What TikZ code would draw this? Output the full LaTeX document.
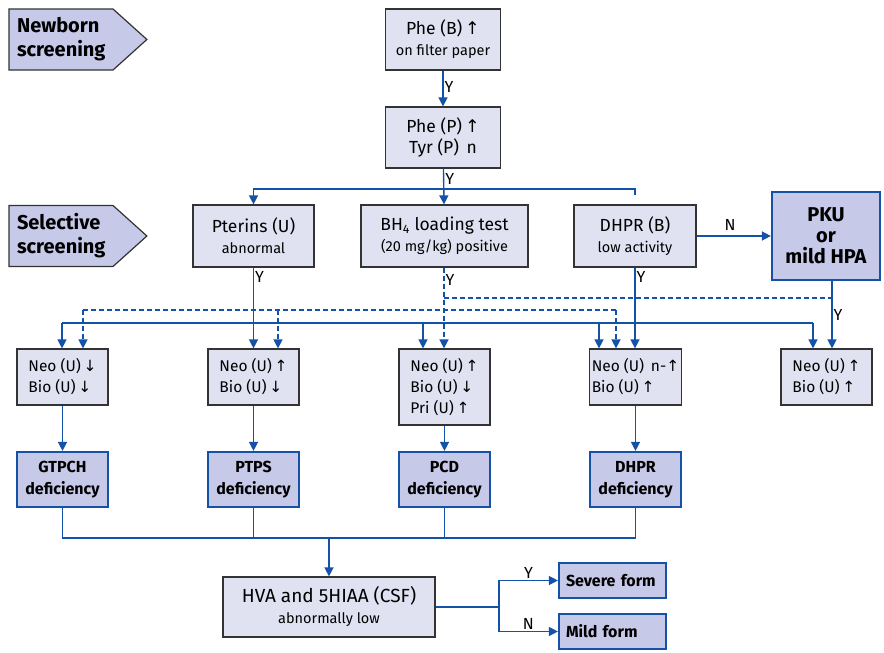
\documentclass[tikz,border=0pt]{standalone}
\usepackage{fontspec}
\setmainfont{Fira Sans}
\newfontfamily\arrowfont{DejaVu Sans}
\usetikzlibrary{arrows.meta,shapes.symbols}
\definecolor{lineblue}{HTML}{1452A8}
\definecolor{boxgray}{HTML}{333333}
\definecolor{lightfill}{HTML}{E0E2F2}
\definecolor{darkfill}{HTML}{C6C9E8}
\newcommand{\upar}{{\arrowfont\char"2191}}
\newcommand{\dnar}{{\arrowfont\char"2193}}
\newcommand{\bigtxt}{\fontsize{17.5}{21}\selectfont}
\newcommand{\midtxt}{\fontsize{15.5}{21}\selectfont}
\newcommand{\smalltxt}{\fontsize{14.5}{21}\selectfont}

\tikzset{
  testbox/.style={draw=boxgray, fill=lightfill, line width=1.2pt, align=center, inner sep=2pt, font=\bigtxt},
  resultbox/.style={draw=lineblue, fill=darkfill, line width=2.2pt, align=center, inner sep=2pt, font=\bfseries\fontsize{16}{22}\selectfont},
  stagebox/.style={shape=signal, signal to=east, signal pointer angle=84, draw=boxgray, fill=darkfill, line width=1.2pt, inner xsep=8pt, inner ysep=2pt, minimum height=61pt, text width=88pt, align=left, font=\bfseries\fontsize{20}{24}\selectfont},
  flow/.style={draw=lineblue, line width=1.4pt, -{Triangle[width=9pt,length=9pt]}},
  link/.style={draw=lineblue, line width=1.4pt},
  dashflow/.style={flow, dash pattern=on 5pt off 3pt},
  dashlink/.style={link, dash pattern=on 5pt off 3pt},
  yn/.style={font=\fontsize{16}{18}\selectfont, inner sep=1pt}
}

\begin{document}
\begin{tikzpicture}[x=1pt, y=-1pt]
        \useasboundingbox (0,0) rectangle (884,653);

        % Stages
        \node[stagebox] (newborn) at (61,39.5) {Newborn\\screening};
        \node[stagebox] (selective) at (61,236) {Selective\\screening};

        % Screening tests
        \node[testbox, minimum width=115pt, minimum height=61pt] (pheb) at (443,39.5)
            {Phe (B)\,\upar\\\smalltxt on filter paper};
        \node[testbox, minimum width=115pt, minimum height=61pt] (phep) at (443,137.5)
            {Phe (P)\,\upar\\Tyr (P)\, n};
        \node[testbox, minimum width=121pt, minimum height=62pt] (pterins) at (253.5,236)
            {Pterins (U)\\\smalltxt abnormal};
        \node[testbox, minimum width=167pt, minimum height=62pt] (bh4) at (444.5,236)
            {BH\textsubscript{4} loading test\\\smalltxt (20 mg/kg) positive};
        \node[testbox, minimum width=122pt, minimum height=62pt] (dhprb) at (635,236)
            {DHPR (B)\\\smalltxt low activity};
        \node[resultbox, minimum width=108pt, minimum height=88pt, font=\bfseries\fontsize{20}{21}\selectfont] (pku) at (826,236)
            {PKU\\or\\mild HPA};

        % Pterin profiles
        \node[testbox, minimum width=91pt, minimum height=56pt, align=left, font=\midtxt] (neo1) at (62.5,377)
            {Neo (U)\,\dnar\\Bio (U)\,\dnar};
        \node[testbox, minimum width=91pt, minimum height=56pt, align=left, font=\midtxt] (neo2) at (253.5,377)
            {Neo (U)\,\upar\\Bio (U)\,\dnar};
        \node[testbox, minimum width=91pt, minimum height=76pt, align=left, font=\midtxt] (neo3) at (444.5,387)
            {Neo (U)\,\upar\\Bio (U)\,\dnar\\Pri (U)\,\upar};
        \node[testbox, minimum width=91pt, minimum height=56pt, align=left, font=\midtxt] (neo4) at (635.5,377)
            {Neo (U)\, n-\upar\\Bio (U)\,\upar};
        \node[testbox, minimum width=91pt, minimum height=56pt, align=left, font=\midtxt] (neo5) at (826.5,377)
            {Neo (U)\,\upar\\Bio (U)\,\upar};

        % Deficiencies
        \node[resultbox, minimum width=91pt, minimum height=55pt] (gtpch) at (62.5,479.5) {GTPCH\\deficiency};
        \node[resultbox, minimum width=91pt, minimum height=55pt] (ptps) at (253.5,479.5) {PTPS\\deficiency};
        \node[resultbox, minimum width=91pt, minimum height=55pt] (pcd) at (444.5,479.5) {PCD\\deficiency};
        \node[resultbox, minimum width=91pt, minimum height=55pt] (dhprdef) at (635.5,479.5) {DHPR\\deficiency};

        % CSF and forms
        \node[testbox, minimum width=212pt, minimum height=60pt, font=\fontsize{19}{21}\selectfont] (hva) at (329,607)
            {HVA and 5HIAA (CSF)\\\smalltxt abnormally low};
        \node[resultbox, minimum width=107pt, minimum height=35pt, align=left, text width=93pt] (severe) at (612.5,580.5) {Severe form};
        \node[resultbox, minimum width=107pt, minimum height=35pt, align=left, text width=93pt] (mild) at (612.5,631.5) {Mild form};

        % Helper points
        \coordinate (split) at (443,189);
        \coordinate (dhprtick) at (635,195);
        \coordinate (busW) at (62,323);
        \coordinate (busE) at (813,323);
        \coordinate (dashW) at (83,310);
        \coordinate (dashE) at (616,310);
        \coordinate (pkuW) at (444,298);
        \coordinate (pkuE) at (832,298);
        \coordinate (join) at (329,538);
        \coordinate (fork) at (499,607);

        % Newborn screening
        \draw[flow] (pheb) -- node[yn, right, pos=0.45] {Y} (phep);
        \draw[flow] (phep) -- node[yn, right, pos=0.3] {Y} (bh4);
        \draw[flow] (split) -| (pterins);
        \draw[link] (split) -| (dhprtick);

        % Selective screening
        \draw[flow] (dhprb) -- node[yn, above, pos=0.45, yshift=4pt] {N} (pku);
        \draw[flow] (pterins) -- node[yn, right, pos=0.12] {Y} (neo2);
        \draw[dashflow] (bh4.south -| 444,0) -- node[yn, right, pos=0.15] {Y} (neo3.north -| 444,0);
        \draw[flow] (dhprb) -- node[yn, right, pos=0.12] {Y} (neo4.north -| dhprb);
        \draw[flow] (pku.south -| pkuE) -- node[yn, right, pos=0.5] {Y} (neo5.north -| pkuE);

        % Solid bus
        \draw[link] (busW) -- (busE);
        \draw[flow] (busW) -- (neo1.north -| busW);
        \draw[flow] (busW -| 423,0) -- (neo3.north -| 423,0);
        \draw[flow] (busW -| 599,0) -- (neo4.north -| 599,0);
        \draw[flow] (busE) -- (neo5.north -| busE);

        % Dashed buses
        \draw[dashlink] (pkuW) -- (pkuE);
        \draw[dashlink] (dashW) -- (dashE);
        \draw[dashflow] (dashW) -- (neo1.north -| dashW);
        \draw[dashflow] (dashW -| 278,0) -- (neo2.north -| 278,0);
        \draw[dashflow] (dashE) -- (neo4.north -| dashE);

        % Profiles to deficiencies
        \draw[flow] (neo1) -- (gtpch);
        \draw[flow] (neo2) -- (ptps);
        \draw[flow] (neo3) -- (pcd);
        \draw[flow] (neo4) -- (dhprdef);

        % Deficiencies to CSF
        \draw[link] (gtpch.south) |- (join) -| (dhprdef.south);
        \draw[link] (ptps.south) -- (ptps.south |- join);
        \draw[link] (pcd.south) -- (pcd.south |- join);
        \draw[flow] (join) -- (hva);

        % Forms
        \draw[link] (hva.east |- fork) -- (fork);
        \draw[flow] (fork) |- node[yn, above, pos=0.75] {Y} (severe);
        \draw[flow] (fork) |- node[yn, above, pos=0.75] {N} (mild);
    \end{tikzpicture}
\end{document}
